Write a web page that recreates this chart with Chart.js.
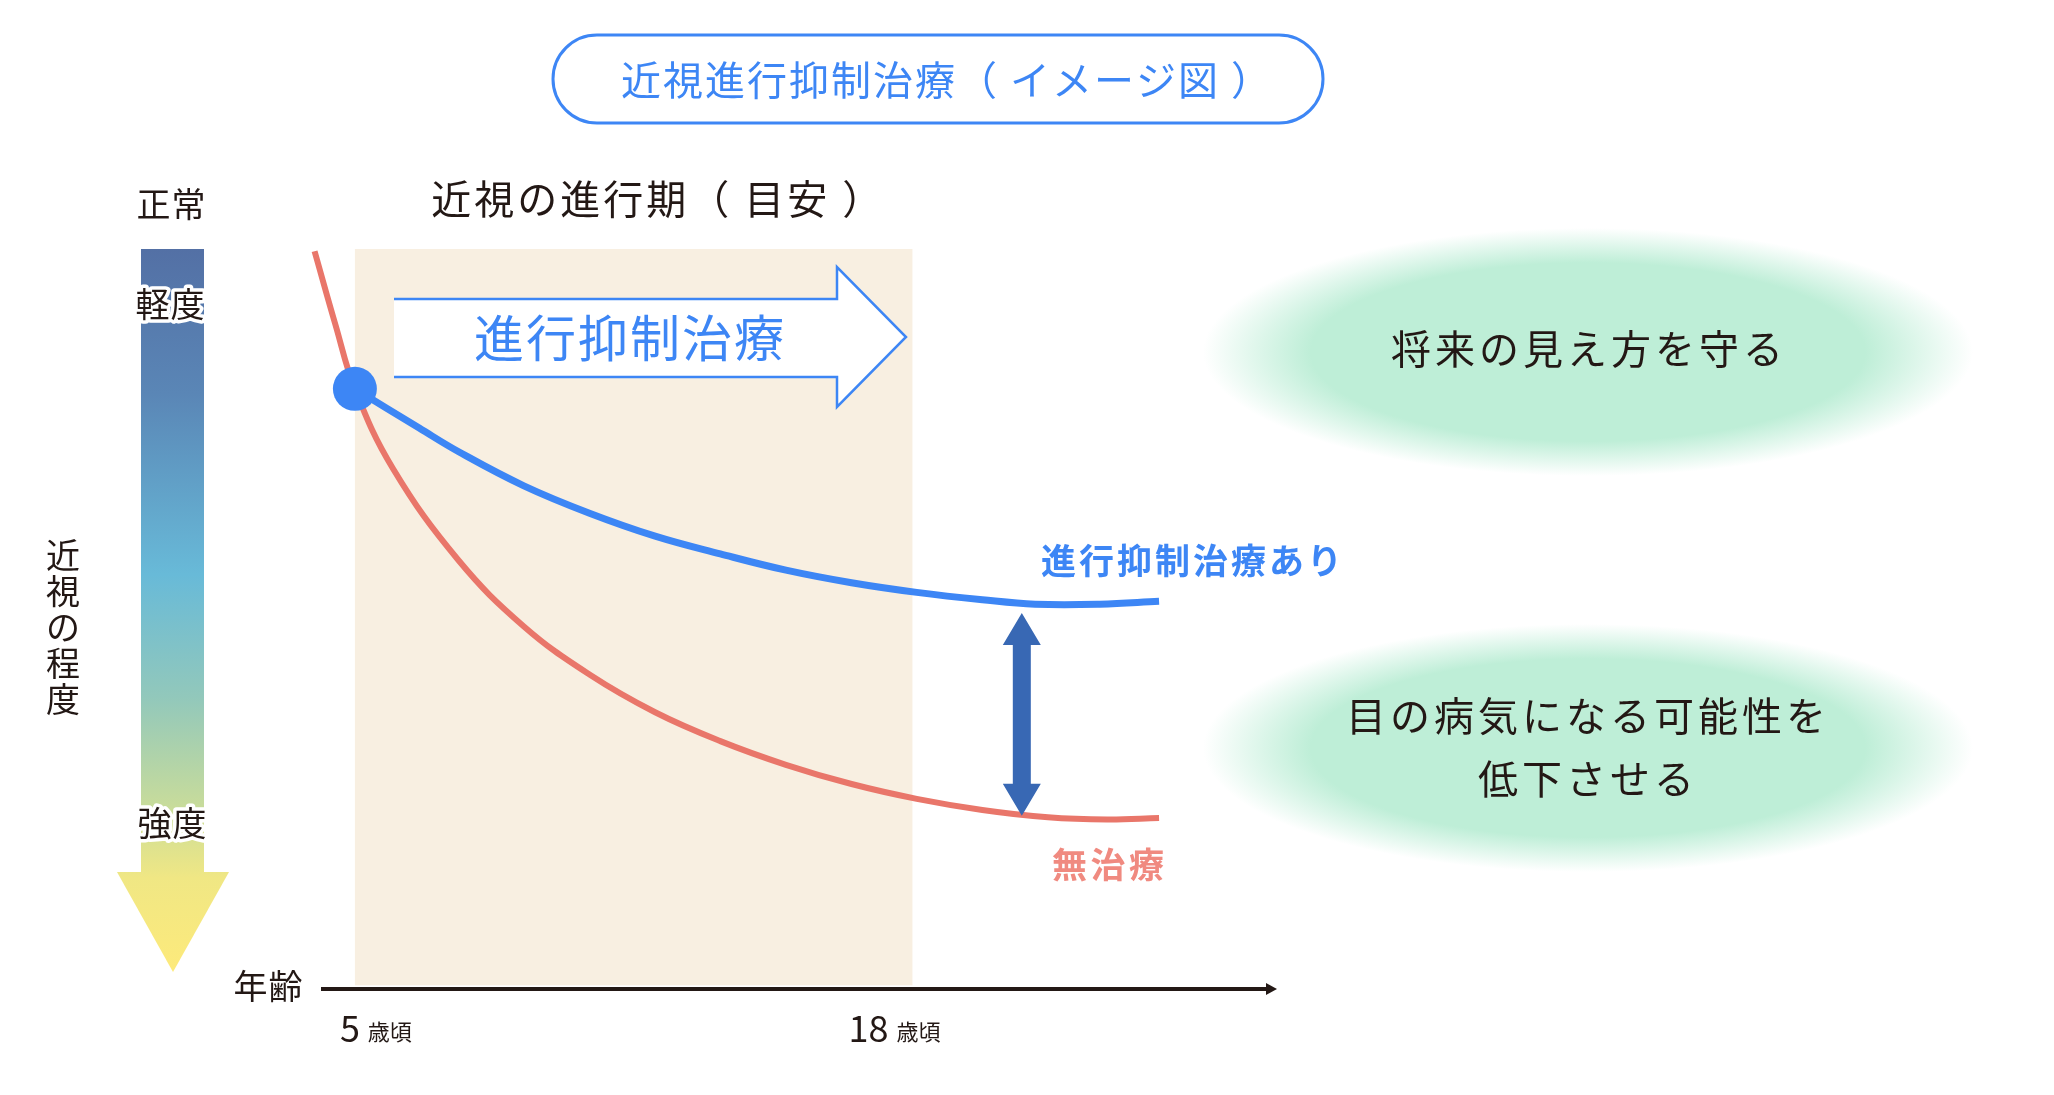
<!DOCTYPE html>
<html lang="ja">
<head>
<meta charset="utf-8">
<title>近視進行抑制治療（イメージ図）</title>
<script src="https://cdn.jsdelivr.net/npm/chart.js@4.4.1/dist/chart.umd.min.js"></script>
<style>
  html, body { margin: 0; padding: 0; background: #fff; }
  canvas { display: block; }
</style>
</head>
<body>
<canvas id="chart" width="2054" height="1095"></canvas>
<script>
// 年齢（横軸）と近視の程度（縦軸、0 = 正常、100 = 強度の下端）
const redAges    = [4.06, 4.55, 5.0, 5.89, 7.42, 8.94, 10.47, 12.0, 13.52, 15.05, 16.58, 18.1, 19.63, 21.16, 22.54, 23.75];
const redLevels  = [0.3, 10.3, 18.9, 29.7, 42.1, 51.0, 57.5, 62.6, 66.5, 69.7, 72.3, 74.3, 75.8, 76.8, 77.1, 76.9];
const blueAges   = [5.0, 6.5, 7.42, 8.94, 10.47, 12.0, 13.52, 15.05, 16.58, 18.1, 19.63, 20.86, 22.37, 23.75];
const blueLevels = [18.9, 24.2, 27.4, 32.0, 35.7, 38.8, 41.2, 43.4, 45.1, 46.4, 47.4, 48.0, 48.0, 47.6];
const startAge = 5;
const startLevel = 18.9;

const tickAges = [5, 18];
const tickNumbers = ['5', '18'];
const tickSuffix = '歳頃';
const periodAges = [5, 18];          // 近視の進行期（目安）
const gapAge = 20.55;                // 差を示す矢印の位置
const gapLevels = [49.2, 76.6];

const seriesNames = ['無治療', '進行抑制治療あり'];
const severityLabels = ['正常', '軽度', '強度'];
const effects = [['将来の見え方を守る'], ['目の病気になる可能性を', '低下させる']];

const BLUE = '#3d86f5';
const RED = '#e9766a';
const INK = '#231815';
const FONT = '"Noto Sans CJK JP", "Noto Sans", sans-serif';

const toPoints = (xs, ys) => xs.map((x, i) => ({ x, y: ys[i] }));

const font = (size, weight) => `${weight || 400} ${size}px ${FONT}`;

const drawText = (ctx, text, x, y, size, color, opts = {}) => {
  ctx.save();
  ctx.font = font(size, opts.weight);
  const ls = opts.spacing || 0;
  ctx.letterSpacing = ls + 'px';
  const align = opts.align || 'center';
  ctx.textAlign = align;
  ctx.textBaseline = 'middle';
  const tx = align === 'center' ? x + ls / 2 : x;
  if (opts.halo) {
    ctx.lineWidth = 7;
    ctx.lineJoin = 'round';
    ctx.strokeStyle = '#fff';
    ctx.strokeText(text, tx, y);
  }
  ctx.fillStyle = color;
  ctx.fillText(text, tx, y);
  ctx.restore();
};

// ぼかした緑の楕円
const drawGlow = (ctx, cx, cy, rx, ry) => {
  ctx.save();
  ctx.translate(cx, cy);
  ctx.scale(1, ry / rx);
  const g = ctx.createRadialGradient(0, 0, 0, 0, 0, rx);
  g.addColorStop(0, 'rgba(190,238,215,1)');
  g.addColorStop(0.72, 'rgba(190,238,215,1)');
  g.addColorStop(0.86, 'rgba(190,238,215,0.5)');
  g.addColorStop(1, 'rgba(190,238,215,0)');
  ctx.fillStyle = g;
  ctx.beginPath();
  ctx.arc(0, 0, rx, 0, Math.PI * 2);
  ctx.fill();
  ctx.restore();
};

const decor = {
  id: 'decor',
  beforeDraw(chart) {
    const ctx = chart.ctx;
    ctx.save();
    ctx.fillStyle = '#fff';
    ctx.fillRect(0, 0, chart.width, chart.height);
    ctx.restore();

    // タイトル枠
    ctx.save();
    ctx.strokeStyle = BLUE;
    ctx.lineWidth = 3;
    ctx.beginPath();
    ctx.roundRect(553, 35, 770, 88, 44);
    ctx.stroke();
    ctx.restore();
    drawText(ctx, '近視進行抑制治療（ イメージ図 ）', 946, 80, 40, BLUE, { spacing: 2 });

    // 効果の楕円
    drawGlow(ctx, 1588, 352, 385, 124);
    drawGlow(ctx, 1588, 748, 385, 124);
    drawText(ctx, effects[0][0], 1587, 349, 40, INK, { spacing: 4 });
    drawText(ctx, effects[1][0], 1586, 716, 40, INK, { spacing: 4 });
    drawText(ctx, effects[1][1], 1586, 779, 40, INK, { spacing: 4 });
  },
  beforeDatasetsDraw(chart) {
    const ctx = chart.ctx;
    const { x, y } = chart.scales;
    const area = chart.chartArea;

    // 近視の進行期（目安）
    const x0 = x.getPixelForValue(periodAges[0]);
    const x1 = x.getPixelForValue(periodAges[1]);
    ctx.save();
    ctx.fillStyle = '#f8efe1';
    ctx.fillRect(x0, area.top, x1 - x0, y.getPixelForValue(99.5) - area.top);
    ctx.restore();
    drawText(ctx, '近視の進行期（ 目安 ）', (x0 + x1) / 2 + 23, 199, 40, INK, { spacing: 3 });

    // 近視の程度のグラデーション矢印
    const barTop = area.top;
    ctx.save();
    const g = ctx.createLinearGradient(0, barTop, 0, 972);
    g.addColorStop(0, '#5370a5');
    g.addColorStop(0.2, '#5a86b6');
    g.addColorStop(0.45, '#68bad8');
    g.addColorStop(0.62, '#92c8bb');
    g.addColorStop(0.78, '#cbdd99');
    g.addColorStop(0.87, '#f0e784');
    g.addColorStop(1, '#fdea7b');
    ctx.fillStyle = g;
    ctx.fillRect(141, barTop, 63, 872 - barTop);
    ctx.beginPath();
    ctx.moveTo(117, 872);
    ctx.lineTo(229, 872);
    ctx.lineTo(173, 972);
    ctx.closePath();
    ctx.fill();
    ctx.restore();
    drawText(ctx, severityLabels[0], 171, 204, 34, INK, { spacing: 1 });
    drawText(ctx, severityLabels[1], 170, 304, 34, INK, { halo: true, spacing: 1 });
    drawText(ctx, severityLabels[2], 172, 823, 34, INK, { halo: true, spacing: 1 });
    ['近', '視', 'の', '程', '度'].forEach((c, i) => drawText(ctx, c, 63, 555 + i * 36, 34, INK));

    // 進行抑制治療の矢印
    ctx.save();
    ctx.beginPath();
    ctx.moveTo(394, 299);
    ctx.lineTo(837, 299);
    ctx.lineTo(837, 267);
    ctx.lineTo(906, 337);
    ctx.lineTo(837, 407);
    ctx.lineTo(837, 377);
    ctx.lineTo(394, 377);
    ctx.fillStyle = '#fff';
    ctx.fill();
    ctx.strokeStyle = BLUE;
    ctx.lineWidth = 2.5;
    ctx.stroke();
    ctx.restore();
    drawText(ctx, '進行抑制治療', 629, 338, 50, BLUE, { spacing: 2 });

    // 年齢の軸
    const ay = area.bottom;
    ctx.save();
    ctx.strokeStyle = INK;
    ctx.fillStyle = INK;
    ctx.lineWidth = 4;
    ctx.beginPath();
    ctx.moveTo(321, ay);
    ctx.lineTo(area.right - 8, ay);
    ctx.stroke();
    ctx.beginPath();
    ctx.moveTo(area.right, ay);
    ctx.lineTo(area.right - 11, ay - 6);
    ctx.lineTo(area.right - 11, ay + 6);
    ctx.closePath();
    ctx.fill();
    ctx.restore();
    drawText(ctx, '年齢', 268, 986, 34, INK, { spacing: 1 });

    const shifts = [-15, -64];
    tickAges.forEach((age, i) => {
      const px = x.getPixelForValue(age) + shifts[i];
      ctx.save();
      ctx.font = font(36);
      const w = ctx.measureText(tickNumbers[i]).width;
      ctx.restore();
      drawText(ctx, tickNumbers[i], px, 1028, 36, INK, { align: 'left' });
      drawText(ctx, tickSuffix, px + w + 8, 1032, 22, INK, { align: 'left' });
    });
  },
  afterDatasetsDraw(chart) {
    const ctx = chart.ctx;
    const { x, y } = chart.scales;
    const cx = x.getPixelForValue(gapAge);
    const top = y.getPixelForValue(gapLevels[0]);
    const bot = y.getPixelForValue(gapLevels[1]);
    ctx.save();
    ctx.fillStyle = '#3868b4';
    ctx.beginPath();
    ctx.moveTo(cx, top);
    ctx.lineTo(cx + 19, top + 32);
    ctx.lineTo(cx + 9, top + 32);
    ctx.lineTo(cx + 9, bot - 32);
    ctx.lineTo(cx + 19, bot - 32);
    ctx.lineTo(cx, bot);
    ctx.lineTo(cx - 19, bot - 32);
    ctx.lineTo(cx - 9, bot - 32);
    ctx.lineTo(cx - 9, top + 32);
    ctx.lineTo(cx - 19, top + 32);
    ctx.closePath();
    ctx.fill();
    ctx.restore();

    drawText(ctx, seriesNames[1], 1041, 561, 35, BLUE, { align: 'left', weight: 700, spacing: 3 });
    drawText(ctx, seriesNames[0], 1052, 865, 35, '#f08a80', { align: 'left', weight: 700, spacing: 3.5 });
  }
};

new Chart(document.getElementById('chart'), {
  type: 'scatter',
  data: {
    datasets: [
      {
        label: seriesNames[0],
        data: toPoints(redAges, redLevels),
        showLine: true,
        borderColor: RED,
        borderWidth: 6,
        pointRadius: 0,
        tension: 0.4,
        clip: false,
        order: 3
      },
      {
        label: seriesNames[1],
        data: toPoints(blueAges, blueLevels),
        showLine: true,
        borderColor: BLUE,
        borderWidth: 7,
        pointRadius: 0,
        tension: 0.4,
        clip: false,
        order: 2
      },
      {
        label: 'start',
        data: [{ x: startAge, y: startLevel }],
        pointRadius: 22,
        pointBackgroundColor: BLUE,
        pointBorderWidth: 0,
        clip: false,
        order: 1
      }
    ]
  },
  options: {
    responsive: false,
    animation: false,
    layout: { padding: { left: 312, right: 777, top: 249, bottom: 106 } },
    plugins: {
      legend: { display: false },
      tooltip: { enabled: false },
      title: { display: false }
    },
    scales: {
      x: { type: 'linear', min: 4, max: 26.5, display: false },
      y: { min: 0, max: 100, reverse: true, display: false }
    }
  },
  plugins: [decor]
});
</script>
</body>
</html>
